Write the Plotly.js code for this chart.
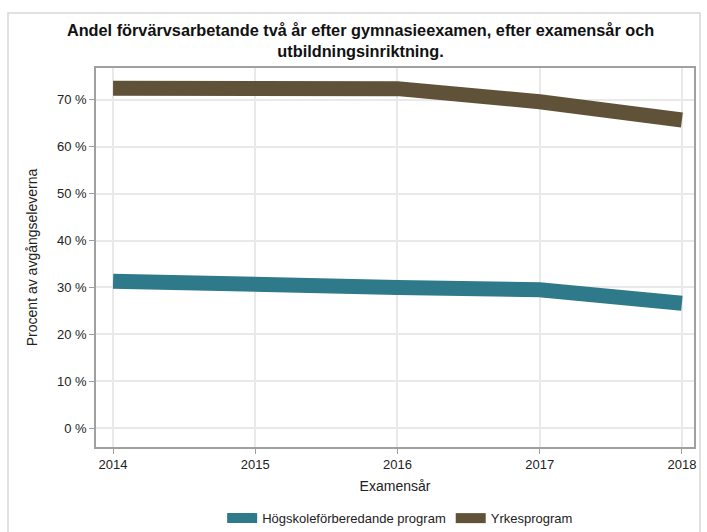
<!DOCTYPE html>
<html>
<head>
<meta charset="utf-8">
<script src="https://cdn.plot.ly/plotly-3.0.1.min.js"></script>
<style>html,body{margin:0;padding:0;background:#fff;}#chart{width:707px;height:532px;}</style>
</head>
<body>
<div id="chart"></div>
<script>
var years = [2014, 2015, 2016, 2017, 2018];
var hogskole = [31.3, 30.4, 30.0, 29.5, 26.6];
var yrkes = [72.5, 72.7, 72.4, 69.6, 65.7];
var seriesNames = ["Högskoleförberedande program", "Yrkesprogram"];
var yTicks = [0, 10, 20, 30, 40, 50, 60, 70];
var yTickText = ["0 %", "10 %", "20 %", "30 %", "40 %", "50 %", "60 %", "70 %"];

var traces = [
  {x: years, y: hogskole, name: seriesNames[0], type: "scatter", mode: "lines",
   line: {color: "rgb(46,122,138)", width: 15}, hoverinfo: "x+y"},
  {x: years, y: yrkes, name: seriesNames[1], type: "scatter", mode: "lines",
   line: {color: "rgb(96,82,56)", width: 15}, hoverinfo: "x+y"}
];

var layout = {
  width: 707, height: 532,
  margin: {l: 96, r: 13, t: 68, b: 85},
  paper_bgcolor: "#fff", plot_bgcolor: "#fff",
  font: {family: "Liberation Sans, Arial, sans-serif", size: 13, color: "#222"},
  title: {text: "<b>Andel förvärvsarbetande två år efter gymnasieexamen, efter examensår och<br>utbildningsinriktning.</b>",
          x: 0.51, xanchor: "center", y: 0.932, yanchor: "top", yref: "container",
          font: {size: 16.3, color: "#111", family: "Liberation Sans, Arial, sans-serif"}},
  xaxis: {range: [2013.88, 2018.085], tickvals: years, ticktext: years.map(String),
          automargin: false,
          showgrid: true, gridcolor: "#e9e9e9", gridwidth: 1.5, zeroline: false,
          showline: true, linecolor: "#a0a0a0", linewidth: 1.5, mirror: true,
          ticks: "outside", ticklen: 5, tickcolor: "#a0a0a0",
          tickfont: {size: 13, color: "#222"},
          title: {text: "Examensår", font: {size: 14, color: "#222"}, standoff: 10}},
  yaxis: {range: [-4.05, 76.8], tickvals: yTicks, ticktext: yTickText,
          automargin: false,
          showgrid: true, gridcolor: "#e9e9e9", gridwidth: 1.5, zeroline: false,
          showline: true, linecolor: "#a0a0a0", linewidth: 1.5, mirror: true,
          ticks: "outside", ticklen: 5, tickcolor: "#a0a0a0",
          tickfont: {size: 13, color: "#222"},
          title: {text: "Procent av avgångseleverna", font: {size: 14, color: "#222"}, standoff: 16}},
  legend: {orientation: "h", x: 0.566, xanchor: "center", xref: "container",
           y: 0.026, yanchor: "middle", yref: "container",
           font: {size: 13, color: "#222"}, itemwidth: 30, tracegroupgap: 0},
  showlegend: true,
  shapes: [{type: "rect", xref: "paper", yref: "paper",
            x0: -88/598, x1: 1 + 6/598, y0: -100/379, y1: 1 + 55/379,
            line: {color: "#d8d8d8", width: 1.5}, fillcolor: "rgba(0,0,0,0)", layer: "below"}]
};

Plotly.newPlot("chart", traces, layout, {displayModeBar: false, responsive: false});
</script>
</body>
</html>
